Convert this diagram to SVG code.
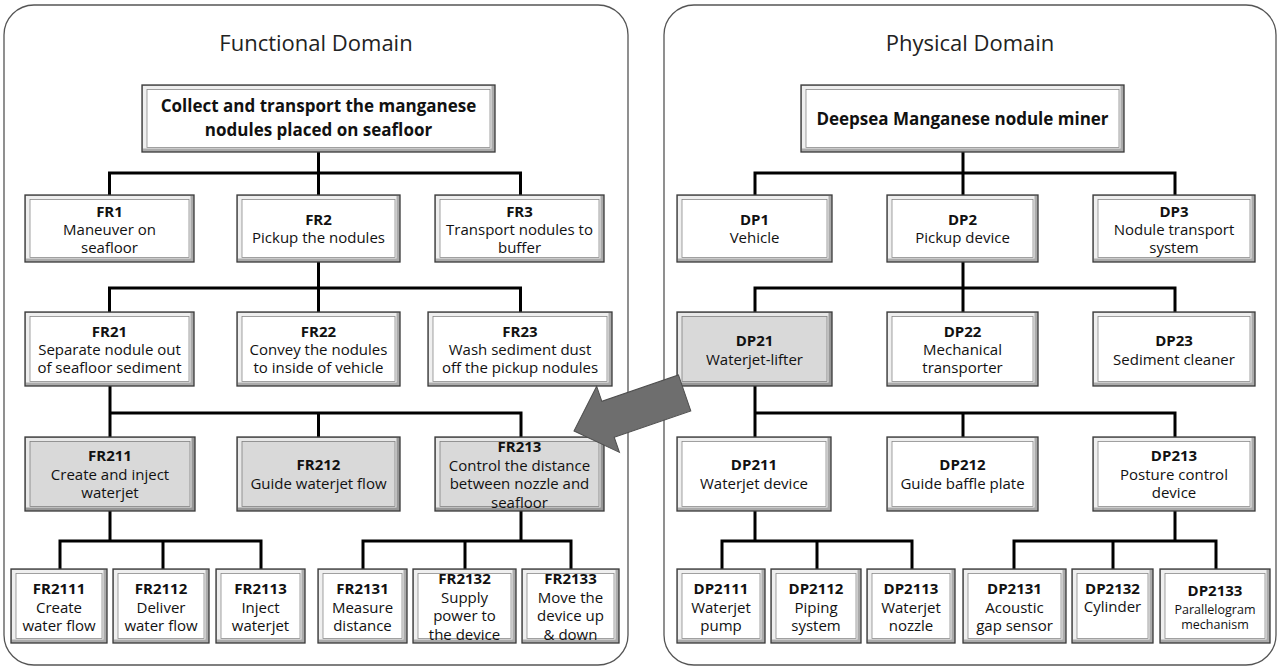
<svg xmlns="http://www.w3.org/2000/svg" width="1278" height="668" viewBox="0 0 1278 668">
<style>
.panel{fill:#fff;stroke:#555;stroke-width:1.3}
.title{font-family:"Open Sans","Noto Sans",sans-serif;font-size:22px;fill:#222;text-anchor:middle}
.o{fill:#ababab;stroke:#3a3a3a;stroke-width:1.3}
.l{fill:#efefef}
.i{fill:#fff;stroke:#8a8a8a;stroke-width:0.8}
.og{fill:#979797;stroke:#3a3a3a;stroke-width:1.3}
.lg{fill:#e8e8e8}
.ig{fill:#d9d9d9;stroke:#808080;stroke-width:0.8}
text{font-family:"Open Sans","Noto Sans",sans-serif;fill:#111;text-anchor:middle}
.t{font-size:15px}
.b{font-size:15px;font-weight:bold}
.r{font-size:17px;font-weight:bold}
.s{font-size:12.5px}
.con{fill:none;stroke:#000;stroke-width:3}
.arrow{fill:#6e6e6e;stroke:#4e4e4e;stroke-width:1}
</style>

<g id="panels">
<rect class="panel" x="4" y="5" width="624" height="660" rx="30"/>
<rect class="panel" x="664" y="5" width="612" height="660" rx="30"/>
<text class="title" x="316" y="51">Functional Domain</text>
<text class="title" x="970" y="51">Physical Domain</text>
</g>

<g id="connectors">
<path class="con" d="M318.5,152V173M109.5,195V173H520.5V195M318.5,173V195"/>
<path class="con" d="M318.5,262V288M109.5,312V288H520.5V312M318.5,288V312"/>
<path class="con" d="M110,386V437M110,413H521V437M318.5,413V437"/>
<path class="con" d="M110,511V541M60,569V541H261V569M163,541V569"/>
<path class="con" d="M521,511V541M363,569V541H571V569M465,541V569"/>
<path class="con" d="M963,152V173M755,195V173H1175V195M963,173V195"/>
<path class="con" d="M963,262V288M755,312V288H1175V312M963,288V312"/>
<path class="con" d="M755,386V437M755,413H1175V437M963,413V437"/>
<path class="con" d="M755,511V541M722,569V541H912V569M817,541V569"/>
<path class="con" d="M1175,511V541M1014,569V541H1216V569M1113,541V569"/>
</g>

<g id="FR0">
<rect class="o" x="142" y="85" width="353" height="67"/><rect class="l" x="143" y="86" width="348.5" height="62.5"/><rect class="i" x="147" y="89.5" width="343" height="58"/>
<text class="r"><tspan x="318.5" y="112">Collect and transport the manganese</tspan><tspan x="318.5" y="136">nodules placed on seafloor</tspan></text>
</g>
<g id="FR1">
<rect class="o" x="25" y="195" width="169" height="67"/><rect class="l" x="26" y="196" width="164.5" height="62.5"/><rect class="i" x="30" y="199.5" width="159" height="58"/>
<text class="t"><tspan class="b" x="109.5" y="217">FR1</tspan><tspan x="109.5" y="235">Maneuver on</tspan><tspan x="109.5" y="253">seafloor</tspan></text>
</g>
<g id="FR2">
<rect class="o" x="237" y="195" width="163" height="67"/><rect class="l" x="238" y="196" width="158.5" height="62.5"/><rect class="i" x="242" y="199.5" width="153" height="58"/>
<text class="t"><tspan class="b" x="318.5" y="225">FR2</tspan><tspan x="318.5" y="243">Pickup the nodules</tspan></text>
</g>
<g id="FR3">
<rect class="o" x="435" y="195" width="169" height="67"/><rect class="l" x="436" y="196" width="164.5" height="62.5"/><rect class="i" x="440" y="199.5" width="159" height="58"/>
<text class="t"><tspan class="b" x="519.5" y="217">FR3</tspan><tspan x="519.5" y="235">Transport nodules to</tspan><tspan x="519.5" y="253">buffer</tspan></text>
</g>
<g id="FR21">
<rect class="o" x="25" y="312" width="169" height="74"/><rect class="l" x="26" y="313" width="164.5" height="69.5"/><rect class="i" x="30" y="316.5" width="159" height="65"/>
<text class="t"><tspan class="b" x="109.5" y="337">FR21</tspan><tspan x="109.5" y="355">Separate nodule out</tspan><tspan x="109.5" y="373">of seafloor sediment</tspan></text>
</g>
<g id="FR22">
<rect class="o" x="237" y="312" width="163" height="74"/><rect class="l" x="238" y="313" width="158.5" height="69.5"/><rect class="i" x="242" y="316.5" width="153" height="65"/>
<text class="t"><tspan class="b" x="318.5" y="337">FR22</tspan><tspan x="318.5" y="355">Convey the nodules</tspan><tspan x="318.5" y="373">to inside of vehicle</tspan></text>
</g>
<g id="FR23">
<rect class="o" x="428" y="312" width="184" height="74"/><rect class="l" x="429" y="313" width="179.5" height="69.5"/><rect class="i" x="433" y="316.5" width="174" height="65"/>
<text class="t"><tspan class="b" x="520" y="337">FR23</tspan><tspan x="520" y="355">Wash sediment dust</tspan><tspan x="520" y="373">off the pickup nodules</tspan></text>
</g>
<g id="FR211">
<rect class="og" x="25" y="437" width="170" height="74"/><rect class="lg" x="26" y="438" width="165.5" height="69.5"/><rect class="ig" x="30" y="441.5" width="160" height="65"/>
<text class="t"><tspan class="b" x="110" y="461">FR211</tspan><tspan x="110" y="479.5">Create and inject</tspan><tspan x="110" y="498">waterjet</tspan></text>
</g>
<g id="FR212">
<rect class="og" x="237" y="437" width="163" height="74"/><rect class="lg" x="238" y="438" width="158.5" height="69.5"/><rect class="ig" x="242" y="441.5" width="153" height="65"/>
<text class="t"><tspan class="b" x="318.5" y="470">FR212</tspan><tspan x="318.5" y="488.5">Guide waterjet flow</tspan></text>
</g>
<g id="FR213">
<rect class="og" x="435" y="437" width="169" height="74"/><rect class="lg" x="436" y="438" width="164.5" height="69.5"/><rect class="ig" x="440" y="441.5" width="159" height="65"/>
<text class="t"><tspan class="b" x="519.5" y="452">FR213</tspan><tspan x="519.5" y="470.5">Control the distance</tspan><tspan x="519.5" y="489">between nozzle and</tspan><tspan x="519.5" y="507.5">seafloor</tspan></text>
</g>
<g id="FR2111">
<rect class="o" x="11" y="569" width="96" height="74"/><rect class="l" x="12" y="570" width="91.5" height="69.5"/><rect class="i" x="16" y="573.5" width="86" height="65"/>
<text class="t"><tspan class="b" x="59" y="594">FR2111</tspan><tspan x="59" y="612.5">Create</tspan><tspan x="59" y="631">water flow</tspan></text>
</g>
<g id="FR2112">
<rect class="o" x="113" y="569" width="96" height="74"/><rect class="l" x="114" y="570" width="91.5" height="69.5"/><rect class="i" x="118" y="573.5" width="86" height="65"/>
<text class="t"><tspan class="b" x="161" y="594">FR2112</tspan><tspan x="161" y="612.5">Deliver</tspan><tspan x="161" y="631">water flow</tspan></text>
</g>
<g id="FR2113">
<rect class="o" x="216" y="569" width="89" height="74"/><rect class="l" x="217" y="570" width="84.5" height="69.5"/><rect class="i" x="221" y="573.5" width="79" height="65"/>
<text class="t"><tspan class="b" x="260.5" y="594">FR2113</tspan><tspan x="260.5" y="612.5">Inject</tspan><tspan x="260.5" y="631">waterjet</tspan></text>
</g>
<g id="FR2131">
<rect class="o" x="318" y="569" width="89" height="74"/><rect class="l" x="319" y="570" width="84.5" height="69.5"/><rect class="i" x="323" y="573.5" width="79" height="65"/>
<text class="t"><tspan class="b" x="362.5" y="594">FR2131</tspan><tspan x="362.5" y="612.5">Measure</tspan><tspan x="362.5" y="631">distance</tspan></text>
</g>
<g id="FR2132">
<rect class="o" x="413" y="569" width="103" height="74"/><rect class="l" x="414" y="570" width="98.5" height="69.5"/><rect class="i" x="418" y="573.5" width="93" height="65"/>
<text class="t"><tspan class="b" x="464.5" y="584">FR2132</tspan><tspan x="464.5" y="602.5">Supply</tspan><tspan x="464.5" y="621">power to</tspan><tspan x="464.5" y="639.5">the device</tspan></text>
</g>
<g id="FR2133">
<rect class="o" x="522" y="569" width="97" height="74"/><rect class="l" x="523" y="570" width="92.5" height="69.5"/><rect class="i" x="527" y="573.5" width="87" height="65"/>
<text class="t"><tspan class="b" x="570.5" y="584">FR2133</tspan><tspan x="570.5" y="602.5">Move the</tspan><tspan x="570.5" y="621">device up</tspan><tspan x="570.5" y="639.5">&amp; down</tspan></text>
</g>

<g id="DP0">
<rect class="o" x="801" y="85" width="323" height="67"/><rect class="l" x="802" y="86" width="318.5" height="62.5"/><rect class="i" x="806" y="89.5" width="313" height="58"/>
<text class="r" x="962.5" y="124.5">Deepsea Manganese nodule miner</text>
</g>
<g id="DP1">
<rect class="o" x="677" y="195" width="155" height="67"/><rect class="l" x="678" y="196" width="150.5" height="62.5"/><rect class="i" x="682" y="199.5" width="145" height="58"/>
<text class="t"><tspan class="b" x="754.5" y="225">DP1</tspan><tspan x="754.5" y="243">Vehicle</tspan></text>
</g>
<g id="DP2">
<rect class="o" x="887" y="195" width="151" height="67"/><rect class="l" x="888" y="196" width="146.5" height="62.5"/><rect class="i" x="892" y="199.5" width="141" height="58"/>
<text class="t"><tspan class="b" x="962.5" y="225">DP2</tspan><tspan x="962.5" y="243">Pickup device</tspan></text>
</g>
<g id="DP3">
<rect class="o" x="1093" y="195" width="162" height="67"/><rect class="l" x="1094" y="196" width="157.5" height="62.5"/><rect class="i" x="1098" y="199.5" width="152" height="58"/>
<text class="t"><tspan class="b" x="1174" y="217">DP3</tspan><tspan x="1174" y="235">Nodule transport</tspan><tspan x="1174" y="253">system</tspan></text>
</g>
<g id="DP21">
<rect class="og" x="677" y="312" width="155" height="74"/><rect class="lg" x="678" y="313" width="150.5" height="69.5"/><rect class="ig" x="682" y="316.5" width="145" height="65"/>
<text class="t"><tspan class="b" x="754.5" y="346">DP21</tspan><tspan x="754.5" y="364.5">Waterjet-lifter</tspan></text>
</g>
<g id="DP22">
<rect class="o" x="887" y="312" width="151" height="74"/><rect class="l" x="888" y="313" width="146.5" height="69.5"/><rect class="i" x="892" y="316.5" width="141" height="65"/>
<text class="t"><tspan class="b" x="962.5" y="337">DP22</tspan><tspan x="962.5" y="355">Mechanical</tspan><tspan x="962.5" y="373">transporter</tspan></text>
</g>
<g id="DP23">
<rect class="o" x="1093" y="312" width="162" height="74"/><rect class="l" x="1094" y="313" width="157.5" height="69.5"/><rect class="i" x="1098" y="316.5" width="152" height="65"/>
<text class="t"><tspan class="b" x="1174" y="346">DP23</tspan><tspan x="1174" y="364.5">Sediment cleaner</tspan></text>
</g>
<g id="DP211">
<rect class="o" x="677" y="437" width="154" height="74"/><rect class="l" x="678" y="438" width="149.5" height="69.5"/><rect class="i" x="682" y="441.5" width="144" height="65"/>
<text class="t"><tspan class="b" x="754" y="470">DP211</tspan><tspan x="754" y="488.5">Waterjet device</tspan></text>
</g>
<g id="DP212">
<rect class="o" x="887" y="437" width="151" height="74"/><rect class="l" x="888" y="438" width="146.5" height="69.5"/><rect class="i" x="892" y="441.5" width="141" height="65"/>
<text class="t"><tspan class="b" x="962.5" y="470">DP212</tspan><tspan x="962.5" y="488.5">Guide baffle plate</tspan></text>
</g>
<g id="DP213">
<rect class="o" x="1093" y="437" width="162" height="74"/><rect class="l" x="1094" y="438" width="157.5" height="69.5"/><rect class="i" x="1098" y="441.5" width="152" height="65"/>
<text class="t"><tspan class="b" x="1174" y="461">DP213</tspan><tspan x="1174" y="479.5">Posture control</tspan><tspan x="1174" y="498">device</tspan></text>
</g>
<g id="DP2111">
<rect class="o" x="677" y="569" width="88" height="74"/><rect class="l" x="678" y="570" width="83.5" height="69.5"/><rect class="i" x="682" y="573.5" width="78" height="65"/>
<text class="t"><tspan class="b" x="721" y="594">DP2111</tspan><tspan x="721" y="612.5">Waterjet</tspan><tspan x="721" y="631">pump</tspan></text>
</g>
<g id="DP2112">
<rect class="o" x="771" y="569" width="90" height="74"/><rect class="l" x="772" y="570" width="85.5" height="69.5"/><rect class="i" x="776" y="573.5" width="80" height="65"/>
<text class="t"><tspan class="b" x="816" y="594">DP2112</tspan><tspan x="816" y="612.5">Piping</tspan><tspan x="816" y="631">system</tspan></text>
</g>
<g id="DP2113">
<rect class="o" x="867" y="569" width="88" height="74"/><rect class="l" x="868" y="570" width="83.5" height="69.5"/><rect class="i" x="872" y="573.5" width="78" height="65"/>
<text class="t"><tspan class="b" x="911" y="594">DP2113</tspan><tspan x="911" y="612.5">Waterjet</tspan><tspan x="911" y="631">nozzle</tspan></text>
</g>
<g id="DP2131">
<rect class="o" x="963" y="569" width="103" height="74"/><rect class="l" x="964" y="570" width="98.5" height="69.5"/><rect class="i" x="968" y="573.5" width="93" height="65"/>
<text class="t"><tspan class="b" x="1014.5" y="594">DP2131</tspan><tspan x="1014.5" y="612.5">Acoustic</tspan><tspan x="1014.5" y="631">gap sensor</tspan></text>
</g>
<g id="DP2132">
<rect class="o" x="1072" y="569" width="81" height="74"/><rect class="l" x="1073" y="570" width="76.5" height="69.5"/><rect class="i" x="1077" y="573.5" width="71" height="65"/>
<text class="t"><tspan class="b" x="1112.5" y="593.5">DP2132</tspan><tspan x="1112.5" y="612">Cylinder</tspan></text>
</g>
<g id="DP2133">
<rect class="o" x="1160" y="569" width="110" height="74"/><rect class="l" x="1161" y="570" width="105.5" height="69.5"/><rect class="i" x="1165" y="573.5" width="100" height="65"/>
<text class="t"><tspan class="b" x="1215" y="596">DP2133</tspan><tspan class="s" x="1215" y="614">Parallelogram</tspan><tspan class="s" x="1215" y="629">mechanism</tspan></text>
</g>

<g id="mapping-arrow">
<polygon class="arrow" transform="translate(574,431) rotate(-19)" points="0,0 36,-35 36,-19 117,-19 117,19 36,19 36,35"/>
</g>
</svg>
